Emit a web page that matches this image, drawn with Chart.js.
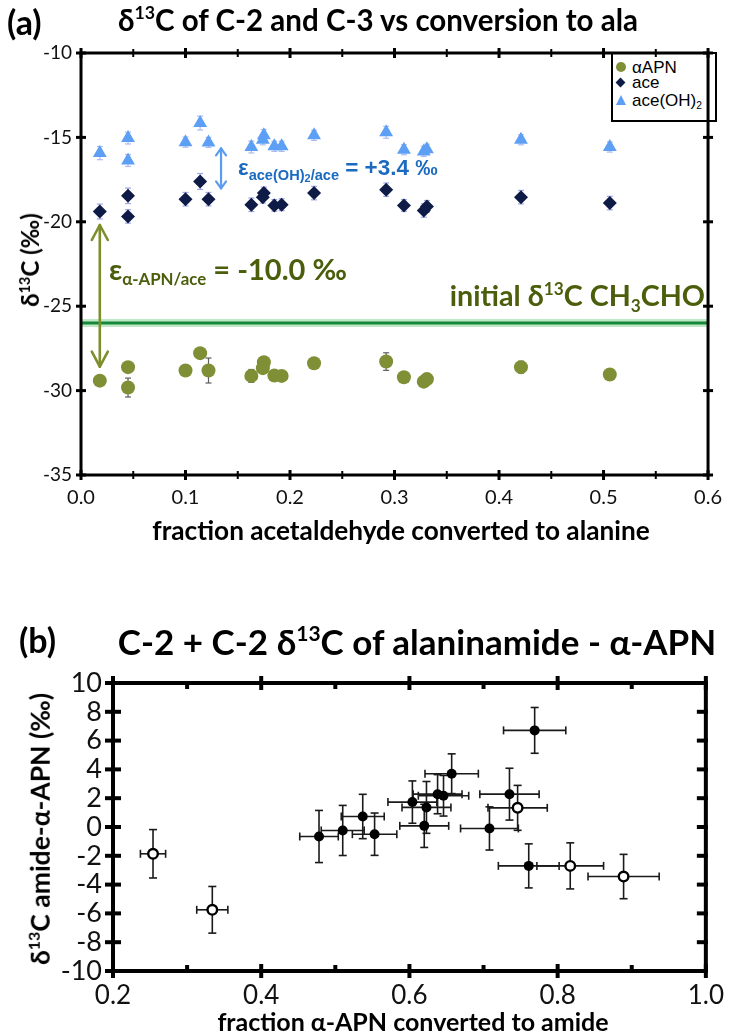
<!DOCTYPE html>
<html>
<head>
<meta charset="utf-8">
<script src="https://cdn.jsdelivr.net/npm/chart.js@4.4.1/dist/chart.umd.min.js"></script>
<style>
  html, body { margin: 0; padding: 0; background: #fff; }
  #page { position: relative; width: 733px; height: 1035px; overflow: hidden; background: #fff; }
  canvas { position: absolute; left: 0; }
  .t { position: absolute; white-space: nowrap; line-height: 1; font-family: Lato, 'DejaVu Sans', sans-serif; font-weight: 700; color: #000; }
  .c { transform: translate(-50%, -50%); }
  .rot { transform: translate(-50%, -50%) rotate(-90deg); }
  .sup { font-size: 0.6em; position: relative; top: -0.65em; }
  .sub { font-size: 0.6em; position: relative; top: 0.35em; }
  .lib { font-family: 'Liberation Sans', Arial, sans-serif; }
  #legendA { position: absolute; left: 611px; top: 52px; width: 102px; height: 66px; border: 2px solid #000; background: #fff;
             font-family: 'Liberation Sans', Arial, sans-serif; font-size: 17px; color: #000; }
  #legendA .it { position: absolute; left: 19px; line-height: 1; white-space: nowrap; }
  #legendA .mk { position: absolute; }
</style>
</head>
<body>
<div id="page">
  <!-- legend of panel (a) sits under the transparent chart canvas -->
  <div id="legendA">
    <div class="mk" style="left:2.7px;top:7.7px;width:10px;height:10px;border-radius:50%;background:#7e8f36"></div>
    <div class="it" style="top:5px">αAPN</div>
    <div class="mk" style="left:4.2px;top:25.2px;width:7px;height:7px;background:#0f1b47;transform:rotate(45deg)"></div>
    <div class="it" style="top:19.5px">ace</div>
    <div class="mk" style="left:2.5px;top:41px;width:0;height:0;border-left:5.5px solid transparent;border-right:5.5px solid transparent;border-bottom:10px solid #5c9ff4"></div>
    <div class="it" style="top:37.5px">ace(OH)<span class="sub">2</span></div>
  </div>

  <canvas id="chartA" width="733" height="560" style="top:0"></canvas>
  <canvas id="chartB" width="733" height="475" style="top:560px"></canvas>

  <!-- panel (a) texts -->
  <div class="t" style="left:7px;top:5px;font-size:34px">(a)</div>
  <div id="titleA" class="t" style="left:118px;top:8px;font-size:28px">δ<span class="sup">13</span>C of C-2 and C-3 vs conversion to ala</div>
  <div id="yTitleA" class="t rot" style="left:30px;top:260px;font-size:22px">δ<span class="sup">13</span>C (‰)</div>
  <div id="xTitleA" class="t c" style="left:401px;top:530px;font-size:24px">fraction acetaldehyde converted to alanine</div>

  <div id="epsAce" class="t lib" style="left:238px;top:157px;color:#1a6ac0;font-size:22px"><span>ε</span><span style="font-size:0.65em;position:relative;top:0.32em">ace(OH)<span style="font-size:0.75em;position:relative;top:0.25em">2</span>/ace</span> = +3.4 ‰</div>
  <div id="epsAPN" class="t" style="left:109px;top:252px;color:#4b5e0c;font-size:30px"><span>ε</span><span style="font-size:0.58em;position:relative;top:0.33em">α-APN/ace</span> = -10.0 ‰</div>
  <div id="initLbl" class="t" style="right:28px;top:286px;color:#4b5e0c;font-size:26px">initial δ<span class="sup">13</span>C CH<span class="sub">3</span>CHO</div>

  <!-- panel (b) texts -->
  <div class="t" style="left:19px;top:623px;font-size:34px">(b)</div>
  <div class="t c" style="left:417px;top:641px;font-size:35px">C-2 + C-2 δ<span class="sup">13</span>C of alaninamide - α-APN</div>
  <div class="t rot" style="left:40px;top:829px;font-size:26.5px">δ<span class="sup">13</span>C amide-α-APN (‰)</div>
  <div class="t c" style="left:413px;top:1021px;font-size:25px">fraction α-APN converted to amide</div>
</div>

<script>
// ---------- panel (a): δ13C of C-2 / C-3 vs fraction converted to alanine ----------
const conversion   = [0.018, 0.045, 0.045, 0.100, 0.114, 0.122, 0.163, 0.175, 0.174, 0.185, 0.192, 0.223, 0.292, 0.309, 0.328, 0.331, 0.421, 0.506];
const d13C_APN     = [-29.41, -28.61, -29.82, -28.81, -27.78, -28.81, -29.13, -28.32, -28.67, -29.11, -29.13, -28.38, -28.28, -29.21, -29.47, -29.32, -28.61, -29.05];
const err_APN      = [0.20, 0.20, 0.56, 0.20, 0.20, 0.74, 0.38, 0.20, 0.20, 0.20, 0.20, 0.20, 0.52, 0.20, 0.20, 0.20, 0.35, 0.20];
const d13C_ace     = [-19.39, -18.46, -19.68, -18.66, -17.61, -18.66, -18.99, -18.30, -18.54, -19.03, -18.99, -18.30, -18.10, -19.03, -19.33, -19.09, -18.54, -18.89];
const err_ace      = [0.44, 0.46, 0.40, 0.40, 0.47, 0.40, 0.40, 0.35, 0.35, 0.35, 0.35, 0.40, 0.40, 0.35, 0.40, 0.35, 0.40, 0.40];
const d13C_aceOH2  = [-15.93, -15.04, -16.37, -15.28, -14.15, -15.30, -15.57, -14.88, -15.14, -15.53, -15.53, -14.88, -14.70, -15.73, -15.83, -15.70, -15.14, -15.57];
const err_aceOH2   = [0.39, 0.35, 0.35, 0.30, 0.41, 0.30, 0.35, 0.35, 0.30, 0.30, 0.30, 0.30, 0.35, 0.30, 0.30, 0.30, 0.30, 0.30];
const xTicksA      = [0, 0.1, 0.2, 0.3, 0.4, 0.5, 0.6];
const yTicksA      = [-35, -30, -25, -20, -15, -10];
const initialD13C  = -26.0;                       // δ13C of the starting CH3CHO
const arrowAceOH2  = { x: 0.134, y1: -15.65, y2: -18.02 };   // ε ace(OH)2/ace marker
const arrowAPN     = { x: 0.018, y1: -20.19, y2: -28.58 };   // ε α-APN/ace marker

// ---------- panel (b): Δδ13C amide − α-APN vs fraction converted to amide ----------
const fracAmide      = [0.478, 0.510, 0.537, 0.553, 0.604, 0.620, 0.623, 0.638, 0.646, 0.657, 0.708, 0.735, 0.761, 0.769];
const dAmide         = [-0.66, -0.24, 0.73, -0.50, 1.73, 0.08, 1.36, 2.28, 2.17, 3.70, -0.10, 2.28, -2.70, 6.71];
const fracAmideErr   = [0.026, 0.029, 0.029, 0.030, 0.033, 0.033, 0.033, 0.033, 0.034, 0.036, 0.039, 0.040, 0.041, 0.042];
const dAmideErr      = [1.81, 1.74, 1.54, 1.47, 1.47, 1.50, 1.80, 1.36, 1.41, 1.38, 1.50, 1.80, 1.53, 1.59];
const fracOpen       = [0.254, 0.334, 0.746, 0.817, 0.889];
const dOpen          = [-1.86, -5.75, 1.33, -2.70, -3.44];
const fracOpenErr    = [0.017, 0.021, 0.040, 0.045, 0.048];
const dOpenErr       = [1.68, 1.62, 1.56, 1.60, 1.54];
const xTicksB        = [0.2, 0.4, 0.6, 0.8, 1.0];
const yTicksB        = [-10, -8, -6, -4, -2, 0, 2, 4, 6, 8, 10];

// ---------- text sizing: scale a label to a given width, optionally pin its baseline ----------
function fitText(id, width, baseline, ascentRatio) {
  const el = document.getElementById(id);
  const fs = parseFloat(getComputedStyle(el).fontSize);
  const nfs = fs * width / el.offsetWidth;
  el.style.fontSize = nfs.toFixed(2) + 'px';
  if (baseline !== undefined) el.style.top = (baseline - ascentRatio * nfs).toFixed(1) + 'px';
}
fitText('titleA', 520, 31, 0.887);
fitText('xTitleA', 498);
fitText('yTitleA', 94);
fitText('epsAce', 200, 176, 0.8465);
fitText('epsAPN', 238, 279.5, 0.887);
fitText('initLbl', 255, 306.7, 0.887);

const pts = (xs, ys) => xs.map((x, i) => ({ x, y: ys[i] }));

function seg(ctx, x1, y1, x2, y2) { ctx.beginPath(); ctx.moveTo(x1, y1); ctx.lineTo(x2, y2); ctx.stroke(); }

// error bars, drawn under the markers
const errorBars = {
  id: 'errorBars',
  beforeDatasetsDraw(chart) {
    const { ctx, scales: { x, y } } = chart;
    chart.data.datasets.forEach(ds => {
      ctx.save();
      ctx.strokeStyle = ds.errColor; ctx.lineWidth = ds.errWidth; ctx.lineCap = 'butt';
      const cap = ds.errCap;
      ds.data.forEach((p, j) => {
        const px = x.getPixelForValue(p.x), py = y.getPixelForValue(p.y);
        if (ds.yErr) {
          const e = ds.yErr[j];
          const a = y.getPixelForValue(p.y + e), b = y.getPixelForValue(p.y - e);
          seg(ctx, px, a, px, b); seg(ctx, px - cap, a, px + cap, a); seg(ctx, px - cap, b, px + cap, b);
        }
        if (ds.xErr) {
          const e = ds.xErr[j];
          const a = x.getPixelForValue(p.x - e), b = x.getPixelForValue(p.x + e);
          seg(ctx, a, py, b, py); seg(ctx, a, py - cap, a, py + cap); seg(ctx, b, py - cap, b, py + cap);
        }
      });
      ctx.restore();
    });
  }
};

// box frame with tick marks crossing / inside the axis lines
const frame = {
  id: 'frame',
  afterDatasetsDraw(chart, args, o) {
    const { ctx, chartArea: { left: l, right: r, top: t, bottom: b }, scales: { x, y } } = chart;
    ctx.save();
    ctx.strokeStyle = '#000'; ctx.lineCap = 'butt'; ctx.lineJoin = 'miter';
    ctx.lineWidth = o.width;
    ctx.strokeRect(l, t, r - l, b - t);
    const minors = o.xTicks.slice(1).map((v, i) => (v + o.xTicks[i]) / 2);
    ctx.lineWidth = o.majorWidth;
    o.xTicks.forEach(v => {
      const px = x.getPixelForValue(v);
      seg(ctx, px, b + o.bottom.major[0], px, b - o.bottom.major[1]);
      seg(ctx, px, t - o.top.major[0], px, t + o.top.major[1]);
    });
    ctx.lineWidth = o.minorWidth;
    minors.forEach(v => {
      const px = x.getPixelForValue(v);
      seg(ctx, px, b + o.bottom.minor[0], px, b - o.bottom.minor[1]);
      seg(ctx, px, t - o.top.minor[0], px, t + o.top.minor[1]);
    });
    ctx.lineWidth = o.majorWidth;
    o.yTicks.forEach(v => {
      const py = y.getPixelForValue(v);
      seg(ctx, l - o.left[0], py, l + o.left[1], py);
      seg(ctx, r + o.right[0], py, r - o.right[1], py);
    });
    ctx.restore();
  }
};

// reference level and the two enrichment arrows of panel (a)
function arrow(ctx, x, y1, y2, hw, hl) {
  seg(ctx, x, y1, x, y2);
  ctx.beginPath(); ctx.moveTo(x - hw, y1 + hl); ctx.lineTo(x, y1); ctx.lineTo(x + hw, y1 + hl); ctx.stroke();
  ctx.beginPath(); ctx.moveTo(x - hw, y2 - hl); ctx.lineTo(x, y2); ctx.lineTo(x + hw, y2 - hl); ctx.stroke();
}
const marksA = {
  id: 'marksA',
  beforeDatasetsDraw(chart) {
    const { ctx, chartArea: { left, right }, scales: { y } } = chart;
    const py = y.getPixelForValue(initialD13C);
    ctx.save();
    ctx.strokeStyle = '#bfe8c7'; ctx.lineWidth = 8; seg(ctx, left, py, right, py);
    ctx.strokeStyle = '#16883a'; ctx.lineWidth = 3; seg(ctx, left, py, right, py);
    ctx.restore();
  },
  afterDatasetsDraw(chart) {
    const { ctx, scales: { x, y } } = chart;
    ctx.save();
    ctx.lineCap = 'round'; ctx.lineJoin = 'round';
    ctx.strokeStyle = '#5a9cf0'; ctx.lineWidth = 2.2;
    arrow(ctx, x.getPixelForValue(arrowAceOH2.x), y.getPixelForValue(arrowAceOH2.y1), y.getPixelForValue(arrowAceOH2.y2), 5, 7);
    ctx.strokeStyle = '#7d8f2c'; ctx.lineWidth = 2.6;
    arrow(ctx, x.getPixelForValue(arrowAPN.x), y.getPixelForValue(arrowAPN.y1), y.getPixelForValue(arrowAPN.y2), 8, 15);
    ctx.restore();
  }
};

function linearAxis(min, max, ticks, fmt, fit, font, pad) {
  return {
    type: 'linear', min, max,
    afterBuildTicks: s => { s.ticks = ticks.map(v => ({ value: v })); },
    afterFit: fit,
    grid: { display: false, drawTicks: false },
    border: { display: false },
    ticks: { padding: pad, color: '#111', font: { family: 'Lato', size: font }, callback: fmt, autoSkip: false, maxRotation: 0 }
  };
}

new Chart(document.getElementById('chartA'), {
  type: 'scatter',
  data: {
    datasets: [
      { label: 'αAPN', data: pts(conversion, d13C_APN), pointStyle: 'circle', pointRadius: 7, backgroundColor: '#7e8f36', borderWidth: 0,
        yErr: err_APN, errColor: '#5e5e5e', errWidth: 1.2, errCap: 3 },
      { label: 'ace', data: pts(conversion, d13C_ace), pointStyle: 'rectRot', pointRadius: 7, backgroundColor: '#0f1b47', borderWidth: 0,
        yErr: err_ace, errColor: '#9fa7e6', errWidth: 1.2, errCap: 3 },
      { label: 'ace(OH)2', data: pts(conversion, d13C_aceOH2), pointStyle: 'triangle', pointRadius: 8, backgroundColor: '#5c9ff4', borderWidth: 0,
        yErr: err_aceOH2, errColor: '#aebbf0', errWidth: 1.2, errCap: 3 }
    ]
  },
  options: {
    responsive: false, animation: false, devicePixelRatio: 1,
    layout: { padding: { top: 53, right: 16, left: 0, bottom: 0 } },
    plugins: {
      legend: { display: false }, tooltip: { enabled: false },
      frame: { width: 3, majorWidth: 3, minorWidth: 2, xTicks: xTicksA, yTicks: yTicksA,
               bottom: { major: [5, 5], minor: [4, 4] }, top: { major: [5, 5], minor: [4, 4] }, left: [5, 5], right: [5, 5] }
    },
    scales: {
      x: linearAxis(0, 0.6, xTicksA, v => v.toFixed(1), s => { s.height = 85; }, 20, 11),
      y: linearAxis(-35, -10, yTicksA, v => String(v), s => { s.width = 81; }, 19, 9)
    }
  },
  plugins: [marksA, errorBars, frame]
});

new Chart(document.getElementById('chartB'), {
  type: 'scatter',
  data: {
    datasets: [
      { label: 'amide', data: pts(fracAmide, dAmide), pointStyle: 'circle', pointRadius: 5, backgroundColor: '#000', borderWidth: 0,
        xErr: fracAmideErr, yErr: dAmideErr, errColor: '#1a1a1a', errWidth: 1.6, errCap: 4 },
      { label: 'amide (open)', data: pts(fracOpen, dOpen), pointStyle: 'circle', pointRadius: 4.8, backgroundColor: '#fff', borderColor: '#000', borderWidth: 2.4,
        xErr: fracOpenErr, yErr: dOpenErr, errColor: '#1a1a1a', errWidth: 1.6, errCap: 4 }
    ]
  },
  options: {
    responsive: false, animation: false, devicePixelRatio: 1,
    layout: { padding: { top: 123, right: 22, left: 0, bottom: 0 } },
    plugins: {
      legend: { display: false }, tooltip: { enabled: false },
      frame: { width: 4, majorWidth: 4, minorWidth: 4, xTicks: xTicksB, yTicks: yTicksB,
               bottom: { major: [7, 7], minor: [0, 6] }, top: { major: [7, 7], minor: [0, 6] }, left: [8, 8], right: [2, 9] }
    },
    scales: {
      x: linearAxis(0.2, 1.0, xTicksB, v => v.toFixed(1), s => { s.height = 64; }, 26, 9),
      y: linearAxis(-10, 10, yTicksB, v => String(v), s => { s.width = 113; }, 27, 11)
    }
  },
  plugins: [errorBars, frame]
});
</script>
</body>
</html>
